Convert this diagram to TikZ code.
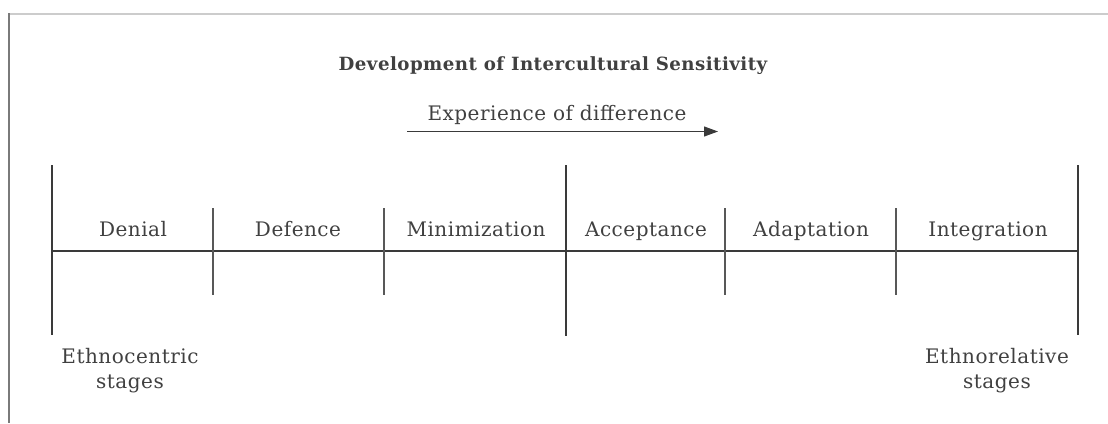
\documentclass[tikz,border=0pt]{standalone}
\usepackage{fontspec}
\setmainfont{DejaVu Serif}[LetterSpace=2.5]
\usetikzlibrary{arrows.meta}
\definecolor{ink}{HTML}{404040}
\definecolor{rule}{HTML}{3A3A3A}
\definecolor{frameL}{HTML}{7A7A7A}
\definecolor{frameT}{HTML}{CCCCCC}
\begin{document}
\begin{tikzpicture}[x=1pt,y=-1pt,
  lbl/.style={text=ink,font=\fontsize{20}{23}\selectfont,inner sep=0pt,anchor=base},
  bar/.style={draw=rule,line width=1.1pt},
  sbar/.style={draw=rule!85,line width=1.1pt}]
\useasboundingbox (0,0) rectangle (1108,423);
% frame
\draw[frameT,line width=2pt] (9,13.5) -- (1108,13.5);
\draw[frameL,line width=1.6pt] (9,13) -- (9,423);
% title
\node[lbl,font=\bfseries\fontsize{18.2}{21}\selectfont] (title) at (553,70) {Development of Intercultural Sensitivity};
\node[lbl] (exp) at (557,120) {Experience of difference};
\coordinate (a1) at (407,131.5);
\coordinate (a2) at (718,131.5);
\draw[rule,line width=1.1pt,-{Triangle[length=14pt,width=10pt]}] (a1) -- (a2);
% long bars
\coordinate (L1) at (52,165); \coordinate (L2) at (52,335);
\coordinate (M1) at (566,165); \coordinate (M2) at (566,336);
\coordinate (R1) at (1078,165); \coordinate (R2) at (1078,335);
\draw[bar] (L1) -- (L2);
\draw[bar] (M1) -- (M2);
\draw[bar] (R1) -- (R2);
% horizontal
\coordinate (H1) at (52,251); \coordinate (H2) at (1078,251);
\draw[bar] (H1) -- (H2);
% short bars
\foreach \x/\n in {213/s1,384/s2,725/s3,896/s4}{
  \coordinate (\n a) at (\x,208); \coordinate (\n b) at (\x,295);
  \draw[sbar] (\n a) -- (\n b);
}
% stage labels
\node[lbl] (denial) at (133,236) {Denial};
\node[lbl] (defence) at (298,236) {Defence};
\node[lbl] (minim) at (476,236) {Minimization};
\node[lbl] (accept) at (646,236) {Acceptance};
\node[lbl] (adapt) at (811,236) {Adaptation};
\node[lbl] (integ) at (988,236) {Integration};
% bottom
\node[lbl] (ethc1) at (130,363) {Ethnocentric};
\node[lbl] (ethc2) at (130,388) {stages};
\node[lbl] (ethr1) at (997,363) {Ethnorelative};
\node[lbl] (ethr2) at (997,388) {stages};
\end{tikzpicture}
\end{document}
